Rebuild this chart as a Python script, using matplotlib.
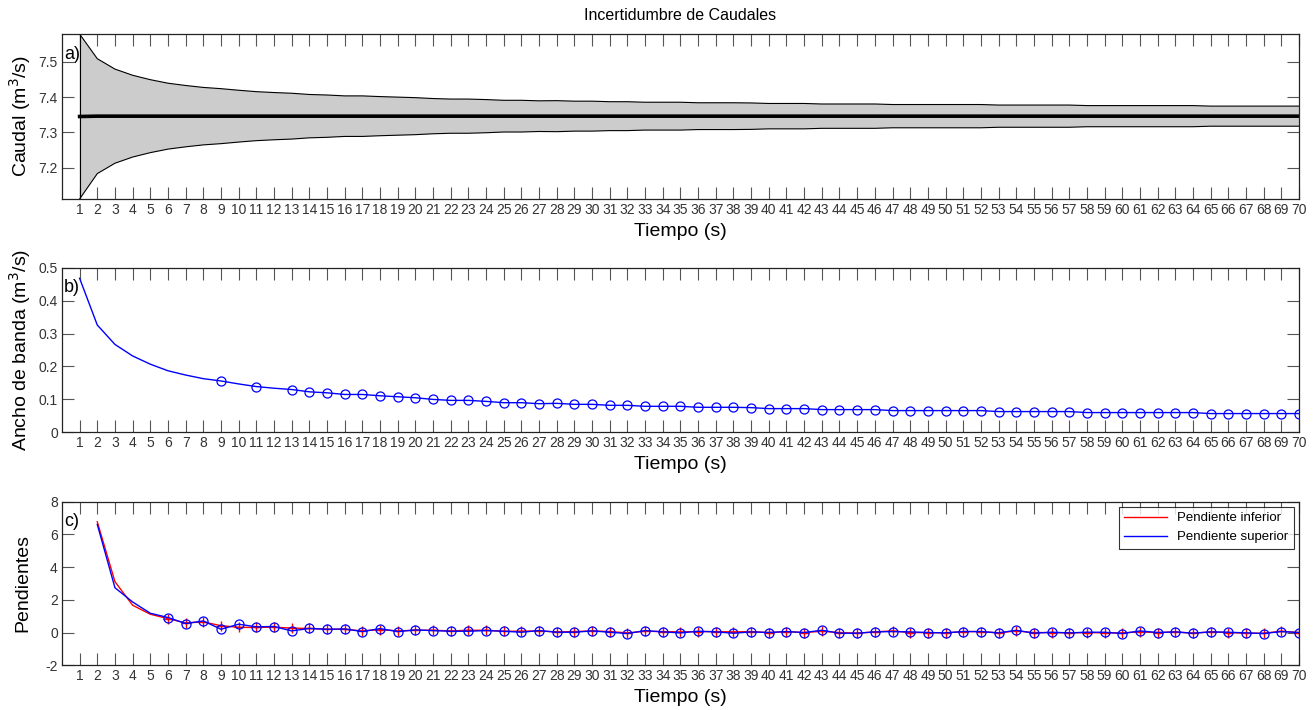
import numpy as np
import matplotlib
matplotlib.use("Agg")
import matplotlib.pyplot as plt

plt.rcParams['font.family'] = ['Liberation Sans', 'DejaVu Sans']

# ---------------- data ----------------
tiempo = list(range(1, 71))

ancho_banda = [0.468, 0.326, 0.267, 0.232, 0.207, 0.187, 0.174, 0.163, 0.156, 0.147,
               0.139, 0.134, 0.130, 0.123, 0.120, 0.115, 0.115, 0.111, 0.108, 0.105,
               0.100, 0.097, 0.097, 0.094, 0.090, 0.090, 0.087, 0.088, 0.085, 0.085,
               0.082, 0.082, 0.079, 0.079, 0.079, 0.076, 0.076, 0.076, 0.075, 0.072,
               0.072, 0.072, 0.069, 0.069, 0.069, 0.069, 0.066, 0.066, 0.066, 0.066,
               0.066, 0.066, 0.063, 0.063, 0.063, 0.063, 0.063, 0.060, 0.060, 0.060,
               0.060, 0.060, 0.060, 0.060, 0.057, 0.057, 0.057, 0.057, 0.057, 0.057]

caudal_medio = [7.345, 7.346, 7.346, 7.346, 7.346, 7.346, 7.346, 7.346, 7.346, 7.346,
                7.346, 7.346, 7.346, 7.346, 7.346, 7.346, 7.346, 7.346, 7.346, 7.346,
                7.346, 7.346, 7.346, 7.346, 7.346, 7.346, 7.346, 7.346, 7.346, 7.346,
                7.346, 7.346, 7.346, 7.346, 7.346, 7.346, 7.346, 7.346, 7.346, 7.346,
                7.346, 7.346, 7.346, 7.346, 7.346, 7.346, 7.346, 7.346, 7.346, 7.346,
                7.346, 7.346, 7.346, 7.346, 7.346, 7.346, 7.346, 7.346, 7.346, 7.346,
                7.346, 7.346, 7.346, 7.346, 7.346, 7.346, 7.346, 7.346, 7.346, 7.346]

marcas_b = [9, 11] + list(range(13, 71))

tiempo_pend = list(range(2, 71))
pend_inferior = [6.77, 3.11, 1.67, 1.12, 0.85, 0.59, 0.65, 0.42, 0.32, 0.31,
                 0.33, 0.27, 0.25, 0.20, 0.20, 0.10, 0.18, 0.10, 0.14, 0.14,
                 0.10, 0.14, 0.14, 0.08, 0.08, 0.10, 0.04, 0.06, 0.10, 0.06,
                 -0.02, 0.08, 0.06, 0.04, 0.06, 0.06, 0.04, 0.06, 0.00, 0.06,
                 0.00, 0.08, 0.00, -0.04, 0.04, 0.10, 0.00, 0.00, -0.02, 0.06,
                 0.06, -0.02, 0.10, 0.00, 0.00, -0.02, 0.00, -0.02, -0.02, 0.04,
                 0.00, 0.04, -0.04, 0.04, 0.00, -0.04, -0.04, 0.08, 0.00]
pend_superior = [6.61, 2.74, 1.87, 1.18, 0.92, 0.55, 0.71, 0.20, 0.51, 0.35,
                 0.37, 0.10, 0.25, 0.20, 0.22, 0.06, 0.24, 0.06, 0.16, 0.12,
                 0.08, 0.08, 0.12, 0.08, 0.02, 0.12, 0.02, 0.02, 0.10, 0.02,
                 -0.06, 0.12, 0.04, -0.02, 0.08, 0.04, -0.04, 0.04, 0.00, 0.06,
                 0.00, 0.14, -0.04, -0.04, 0.04, 0.06, 0.04, 0.00, -0.02, 0.06,
                 0.06, -0.02, 0.14, -0.04, 0.02, -0.02, 0.02, 0.02, -0.06, 0.10,
                 0.00, 0.04, -0.04, 0.04, 0.02, -0.02, -0.06, 0.06, 0.00]
marcas_c = list(range(6, 71))

# ---------------- figure ----------------
fig = plt.figure(figsize=(13.15, 7.10), dpi=100)
L, W = 0.0471, 0.9407
ax_a = fig.add_axes([L, 0.7197, W, 0.2324])
ax_b = fig.add_axes([L, 0.3911, W, 0.2318])
ax_c = fig.add_axes([L, 0.0630, W, 0.2304])

tick_col = '#333333'

def style(ax):
    ax.set_xlim(0, 70)
    ax.set_xticks(tiempo)
    ax.set_xticklabels([str(t) for t in tiempo])
    ax.tick_params(axis='both', direction='in', length=8.5, width=0.8,
                   colors='#555555', labelcolor=tick_col, labelsize=10,
                   top=True, right=True, pad=3)
    for s in ax.spines.values():
        s.set_color('#222222')
        s.set_linewidth(0.9)
    ax.set_xlabel('Tiempo (s)', fontsize=14, labelpad=4)

# panel a
t = np.array(tiempo)
m = np.array(caudal_medio)
w = np.array(ancho_banda)
sup = m + w / 2
inf = m - w / 2
ax_a.fill_between(t, inf, sup, facecolor='#cccccc', edgecolor='none')
ax_a.plot(t, sup, color='black', lw=0.8)
ax_a.plot(t, inf, color='black', lw=0.8)
ax_a.plot([t[0], t[0]], [inf[0], sup[0]], color='black', lw=0.8)
ax_a.plot(t, m, color='black', lw=2.6)
ax_a.set_ylim(inf.min(), sup.max())
ax_a.set_yticks([7.2, 7.3, 7.4, 7.5])
ax_a.set_yticklabels(['7.2', '7.3', '7.4', '7.5'])
style(ax_a)
ax_a.set_ylabel('Caudal (m$^3$/s)', fontsize=14, labelpad=4)
ax_a.set_title('Incertidumbre de Caudales', fontsize=11.5, pad=10)
ax_a.text(0.0015, 0.93, 'a)', transform=ax_a.transAxes, fontsize=13,
          va='top', ha='left')

# panel b
ax_b.plot(tiempo, ancho_banda, color='#0000ff', lw=1.0, marker='o',
          markersize=6.5, markerfacecolor='none', markeredgecolor='#0000ff',
          markeredgewidth=0.9, markevery=[tiempo.index(k) for k in marcas_b])
ax_b.set_ylim(0, 0.5)
ax_b.set_yticks([0, 0.1, 0.2, 0.3, 0.4, 0.5])
ax_b.set_yticklabels(['0', '0.1', '0.2', '0.3', '0.4', '0.5'])
style(ax_b)
ax_b.set_ylabel('Ancho de banda (m$^3$/s)', fontsize=14, labelpad=4)
ax_b.text(0.0015, 0.93, 'b)', transform=ax_b.transAxes, fontsize=13,
          va='top', ha='left')

# panel c
idx_c = [tiempo_pend.index(k) for k in marcas_c]
ax_c.plot(tiempo_pend, pend_inferior, color='#ff0000', lw=1.0, marker='+',
          markersize=7, markeredgewidth=1.0, markevery=idx_c,
          label='Pendiente inferior')
ax_c.plot(tiempo_pend, pend_superior, color='#0000ff', lw=1.0, marker='o',
          markersize=6.5, markerfacecolor='none', markeredgewidth=0.9,
          markevery=idx_c, label='Pendiente superior')
ax_c.set_ylim(-2, 8)
ax_c.set_yticks([-2, 0, 2, 4, 6, 8])
ax_c.set_yticklabels(['-2', '0', '2', '4', '6', '8'])
style(ax_c)
ax_c.set_ylabel('Pendientes', fontsize=14, labelpad=10)
ax_c.text(0.0015, 0.93, 'c)', transform=ax_c.transAxes, fontsize=13,
          va='top', ha='left')
leg = ax_c.legend(loc='upper right', fontsize=9.5, frameon=True, fancybox=False,
                  edgecolor='black', borderaxespad=0.4, handlelength=3.2,
                  markerscale=0, borderpad=0.4, labelspacing=0.5)
leg.get_frame().set_linewidth(0.8)
for h in leg.get_lines():
    h.set_marker('')

fig.savefig('out.png', dpi=100)
